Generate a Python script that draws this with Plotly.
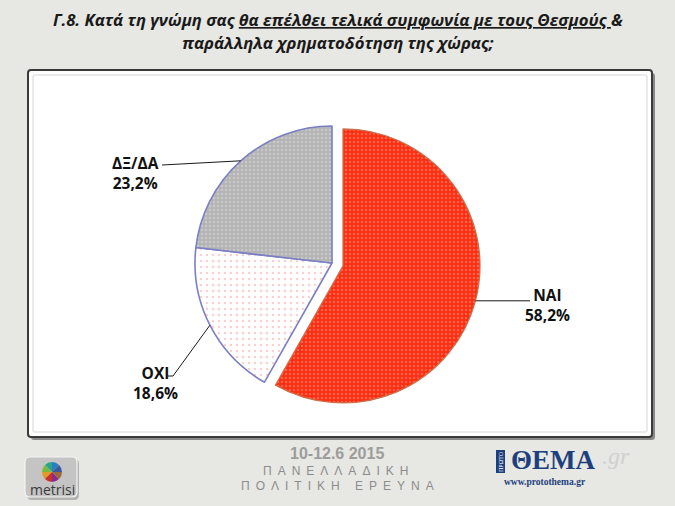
import math
import plotly.graph_objects as go

W, H = 675, 506

# ---- data ----
categories = ["NAI", "OXI", "ΔΞ/ΔΑ"]
values = [58.2, 18.6, 23.2]
slice_colors = ["#ff2d10", "#ffffff", "#b4b4b4"]
dot_colors = ["#ff9a88", "#f4a4a4", "#dedede"]
pulls = [0.083, 0, 0]
logo_colors = ["#2a7fc0", "#2aa58a", "#7bb842", "#e09a2a", "#c8302c", "#8a2a8a", "#9a6a3a", "#3a5aa0"]

title_line1 = "<i>Γ.8. Κατά τη γνώμη σας <u>θα επέλθει τελικά συμφωνία με τους Θεσμούς </u>&</i>"
title_line2 = "<i>παράλληλα χρηματοδότηση της χώρας;</i>"
footer_date = "10-12.6 2015"
footer_line1 = "ΠΑΝΕΛΛΑΔΙΚΗ"
footer_line2 = "ΠΟΛΙΤΙΚΗ ΕΡΕΥΝΑ"


def px(x):
    return x / W


def py(y):
    return 1 - y / H


def spaced(s):
    return "\u2002".join(ch for ch in s)


# pie geometry (layout)
cx, cy, R = 332, 263, 137
half = R * (1 + max(pulls))

fig = go.Figure()
fig.add_trace(go.Pie(
    labels=categories, values=values, sort=False, direction="clockwise", rotation=0,
    pull=pulls, textinfo="none", showlegend=False, hoverinfo="label+percent",
    marker=dict(
        colors=slice_colors,
        line=dict(color=["#c8704e", "#7b7fc4", "#7b7fc4"], width=[1.2, 1.6, 1.6]),
        pattern=dict(shape=[".", ".", "."], fgcolor=dot_colors, size=[4, 6, 4],
                     solidity=[0.3, 0.15, 0.3], fillmode="overlay"),
    ),
    domain=dict(x=[px(cx - half), px(cx + half)], y=[py(cy + half), py(cy - half)]),
))

# small logo wheel
fig.add_trace(go.Pie(
    values=[1] * len(logo_colors), sort=False, textinfo="none", showlegend=False,
    hoverinfo="skip", marker=dict(colors=logo_colors, line=dict(width=0)),
    domain=dict(x=[px(42), px(62)], y=[py(482), py(462)]),
))

# ---- label placement from data ----
total = sum(values)
cum = 0
edge_pts = []
for i, v in enumerate(values):
    mid = (cum + v / 2) / total * 2 * math.pi
    cum += v
    off = pulls[i] * R
    ex = cx + (R + off) * math.sin(mid)
    ey = cy - (R + off) * math.cos(mid)
    edge_pts.append((ex, ey))

label_pos = [(547, 305), (155, 383), (135, 173)]
line_end = [[(530, None)], [(173, 376), (168, 376)], [(162, 165)]]


def rrect(x0, y0, x1, y1, r):
    return (f"M {px(x0+r)},{py(y0)} L {px(x1-r)},{py(y0)} Q {px(x1)},{py(y0)} {px(x1)},{py(y0+r)} "
            f"L {px(x1)},{py(y1-r)} Q {px(x1)},{py(y1)} {px(x1-r)},{py(y1)} "
            f"L {px(x0+r)},{py(y1)} Q {px(x0)},{py(y1)} {px(x0)},{py(y1-r)} "
            f"L {px(x0)},{py(y0+r)} Q {px(x0)},{py(y0)} {px(x0+r)},{py(y0)} Z")


shapes = []
# shadow + frame
shapes.append(dict(type="path", xref="paper", yref="paper", path=rrect(31, 73, 655, 440, 3),
                   fillcolor="rgba(60,60,60,0.55)", line=dict(width=0), layer="below"))
shapes.append(dict(type="path", xref="paper", yref="paper", path=rrect(28, 70, 652, 437, 3),
                   fillcolor="#ffffff", line=dict(color="#3a3a3a", width=2), layer="below"))
shapes.append(dict(type="path", xref="paper", yref="paper", path=rrect(33, 75, 647, 432, 2),
                   fillcolor="rgba(0,0,0,0)", line=dict(color="#e4e4e4", width=1.5), layer="below"))

for i, (ex, ey) in enumerate(edge_pts):
    pts = [(ex, ey)]
    for (lx, ly) in line_end[i]:
        pts.append((lx, ey if ly is None else ly))
    path = "M " + " L ".join(f"{px(a)},{py(b)}" for a, b in pts)
    shapes.append(dict(type="path", xref="paper", yref="paper", path=path,
                       line=dict(color="#1a1a1a", width=1)))

# metrisi logo box
shapes.append(dict(type="path", xref="paper", yref="paper", path=rrect(27, 459, 79, 500, 5),
                   fillcolor="rgba(80,80,80,0.35)", line=dict(width=0), layer="below"))
shapes.append(dict(type="path", xref="paper", yref="paper", path=rrect(25, 457, 77, 497, 5),
                   fillcolor="#c4c4c4", line=dict(color="#f4f4f4", width=1.2), layer="below"))
# protothema blue bar
shapes.append(dict(type="rect", xref="paper", yref="paper", x0=px(496), x1=px(505), y0=py(473), y1=py(450),
                   fillcolor="#1d3f7d", line=dict(width=0)))

annotations = []


def ann(x, y, text, font, **kw):
    d = dict(x=px(x), y=py(y), xref="paper", yref="paper", text=text, showarrow=False,
             xanchor="center", yanchor="middle", font=font)
    d.update(kw)
    annotations.append(d)


ann(338, 19, "<b>" + title_line1 + "</b>", dict(family="Open Sans", size=16.7, color="#1a1a1a"))
ann(338, 43, "<b>" + title_line2 + "</b>", dict(family="Open Sans", size=16.7, color="#1a1a1a"))

for i, cat in enumerate(categories):
    pct = f"{values[i]:.1f}".replace(".", ",") + "%"
    lx, ly = label_pos[i]
    ann(lx, ly, f"<b>{cat}<br>{pct}</b>", dict(family="Open Sans", size=15.5, color="#111111"), align="center")

# footer
ann(337, 453, f"<b>{footer_date}</b>", dict(family="Liberation Sans", size=16, color="#9c9c9c"))
ann(335, 471, spaced(footer_line1), dict(family="Liberation Sans", size=12, color="#8c8c8c"))
ann(337, 486, spaced(footer_line2), dict(family="Liberation Sans", size=12, color="#8c8c8c"))
ann(52, 489, "metrisi", dict(family="Open Sans", size=14, color="#3a3a3a"))
ann(553, 460, "<b>ΘΕΜΑ</b>", dict(family="Liberation Serif", size=27, color="#1d3f7d"))
ann(616, 456, "<i>.gr</i>", dict(family="Liberation Serif", size=24, color="#d0d0d0"))
ann(545, 482, "<b>www.protothema.gr</b>", dict(family="Liberation Serif", size=9.5, color="#1d3f7d"))
ann(500.5, 461.5, "ΠΡΩΤΟ", dict(family="Liberation Serif", size=6, color="#ffffff"), textangle=-90)

fig.update_layout(
    width=W, height=H, margin=dict(l=0, r=0, t=0, b=0),
    paper_bgcolor="#e7e7e3", plot_bgcolor="#e7e7e3",
    shapes=shapes, annotations=annotations,
)

fig.write_html("out.html", config={"displayModeBar": False},
               post_script="document.body.style.margin='0';document.body.style.overflow='hidden';")
